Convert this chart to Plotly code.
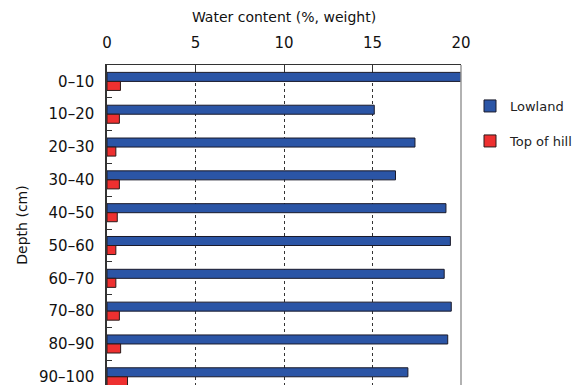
import plotly.graph_objects as go

depths = ["0–10", "10–20", "20–30", "30–40", "40–50", "50–60", "60–70", "70–80", "80–90", "90–100"]
lowland = [20.0, 15.1, 17.4, 16.3, 19.15, 19.4, 19.05, 19.45, 19.25, 17.0]
top_of_hill = [0.76, 0.7, 0.5, 0.7, 0.58, 0.5, 0.5, 0.7, 0.77, 1.16]
x_ticks = [0, 5, 10, 15, 20]

FONT = "DejaVu Sans, Noto Sans, sans-serif"

fig = go.Figure()
fig.add_trace(go.Bar(
    y=depths, x=lowland, orientation="h", name="Lowland",
    marker=dict(color="#2b55a6", line=dict(color="#1a1a2a", width=1)),
    legend="legend",
))
fig.add_trace(go.Bar(
    y=depths, x=top_of_hill, orientation="h", name="Top of hill",
    marker=dict(color="#ee3030", line=dict(color="#2a1a1a", width=1)),
    legend="legend2",
))

leg_common = dict(xref="container", yref="container", xanchor="left", yanchor="middle",
                  font=dict(size=13, color="#222222"), bgcolor="rgba(0,0,0,0)",
                  itemwidth=30, borderwidth=0)

fig.update_layout(
    width=585, height=385,
    margin=dict(l=107, r=124, t=65, b=0),
    paper_bgcolor="white", plot_bgcolor="white",
    barmode="group", bargap=0.45, bargroupgap=0.0,
    font=dict(family=FONT, color="#222222"),
    title=dict(text="Water content (%, weight)", font=dict(size=14, color="#111111"),
               xref="paper", x=0.5, xanchor="center",
               yref="container", y=1 - 17 / 385, yanchor="middle"),
    legend=dict(x=470 / 585, y=1 - 106 / 385, **leg_common),
    legend2=dict(x=470 / 585, y=1 - 141 / 385, **leg_common),
    showlegend=True,
)

fig.update_xaxes(
    side="top", range=[0, 20], tickvals=x_ticks, automargin=False,
    tickfont=dict(size=15, color="#111111"), ticklabelstandoff=10,
    showgrid=True, gridcolor="#333333", griddash="dot", gridwidth=1,
    ticks="inside", ticklen=6, tickcolor="#333333",
    showline=True, linecolor="#333333", linewidth=1, mirror=False,
    zeroline=False,
)
fig.add_shape(type="line", xref="paper", yref="paper", x0=1, x1=1, y0=0, y1=1,
              line=dict(color="#999999", width=1.5))

fig.update_yaxes(
    type="category", range=[9.25, -0.5], automargin=False,
    tickfont=dict(size=15, color="#111111"), ticklabelstandoff=8,
    title=dict(text="Depth (cm)", font=dict(size=14, color="#111111"), standoff=8),
    ticks="inside", ticklen=5, tickcolor="#333333", tickson="boundaries",
    showline=True, linecolor="#333333", linewidth=1.5,
    showgrid=False, zeroline=False,
)

fig.write_html("out.html", config={"displayModeBar": False},
               post_script="document.body.style.margin='0';")
